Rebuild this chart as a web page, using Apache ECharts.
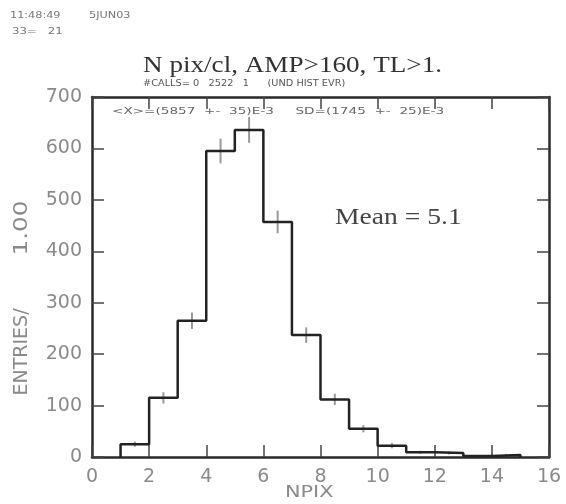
<!DOCTYPE html>
<html>
<head>
<meta charset="utf-8">
<script src="https://cdn.jsdelivr.net/npm/echarts@6/dist/echarts.min.js"></script>
<style>
    html, body { margin: 0; padding: 0; background: #fff; }
    #main { width: 566px; height: 504px; }
</style>
</head>
<body>
<div id="main"></div>
<script>
    // histogram bins (lower edges), bin width 1
    var binLow = [1, 2, 3, 4, 5, 6, 7, 8, 9, 10, 11, 12, 13, 14];
    var counts = [25, 115, 265, 595, 636, 457, 237, 112, 55, 22, 9, 8, 2, 4];
    var errors = [5, 11, 16, 24, 25, 22, 15, 11, 7, 5, 3, 3, 1, 2];
    var xTicks = [0, 2, 4, 6, 8, 10, 12, 14, 16];
    var yTicks = [0, 100, 200, 300, 400, 500, 600, 700];

    var chartDom = document.getElementById('main');
    var myChart = echarts.init(chartDom);

    // step line points
    var stepData = [[binLow[0], 0]];
    binLow.forEach(function (x, i) {
        stepData.push([x, counts[i]]);
    });
    stepData.push([binLow[binLow.length - 1] + 1, 0]);

    var errData = binLow.map(function (x, i) {
        return [x + 0.5, counts[i], errors[i]];
    });

    var tickFont = { color: '#8a8a8a', fontSize: 19, fontFamily: 'DejaVu Sans' };
    var frame = { show: true, onZero: false, lineStyle: { color: '#2a2a2a', width: 2.5 } };
    var tickStyle = { inside: true, length: 12, lineStyle: { color: '#444', width: 1.5 } };

    // helper for stretched label text
    function label(txt, x, y, font, color, sx) {
        return {
            type: 'text', x: x, y: y, scaleX: sx || 1,
            style: { text: txt, fill: color, font: font, verticalAlign: 'top' }
        };
    }

    var option = {
        animation: false,
        grid: { left: 92, right: 17, top: 97, bottom: 47 },
        xAxis: [{
            type: 'value', min: xTicks[0], max: xTicks[xTicks.length - 1], interval: 2,
            axisLine: frame,
            axisTick: tickStyle,
            axisLabel: Object.assign({ margin: 11 }, tickFont),
            splitLine: { show: false }
        }, {
            type: 'value', position: 'top', min: 0, max: 16, interval: 2,
            axisLine: frame,
            axisTick: tickStyle,
            axisLabel: { show: false },
            splitLine: { show: false }
        }],
        yAxis: [{
            type: 'value', min: yTicks[0], max: yTicks[yTicks.length - 1], interval: 100,
            axisLine: frame,
            axisTick: tickStyle,
            axisLabel: Object.assign({ margin: 10 }, tickFont),
            splitLine: { show: false }
        }, {
            type: 'value', position: 'right', min: 0, max: 700, interval: 100,
            axisLine: frame,
            axisTick: tickStyle,
            axisLabel: { show: false },
            splitLine: { show: false }
        }],
        graphic: [
            label('11:48:49', 10, 11, '9px DejaVu Sans', '#777', 1.25),
            label('5JUN03', 89, 11, '9px DejaVu Sans', '#777', 1.25),
            label('33=   21', 12, 27, '9px DejaVu Sans', '#777', 1.3),
            label('N pix/cl, AMP>160, TL>1.', 143, 54, '23px Liberation Serif', '#333', 1.18),
            label('#CALLS= 0   2522   1      (UND HIST EVR)', 143, 80, '8px DejaVu Sans', '#555', 1.22),
            label('<X>=(5857  +-  35)E-3     SD=(1745  +-  25)E-3', 112, 108, '8px DejaVu Sans', '#666', 1.7),
            label('Mean = 5.1', 335, 206, '23px Liberation Serif', '#444', 1.2),
            label('NPIX', 285, 485, '16px DejaVu Sans', '#8a8a8a', 1.3),
            { type: 'text', x: 22, y: 352, rotation: Math.PI / 2,
              style: { text: 'ENTRIES/', fill: '#8a8a8a', font: '19px DejaVu Sans', align: 'center', verticalAlign: 'middle' } },
            { type: 'text', x: 22, y: 228, rotation: Math.PI / 2, scaleX: 1.3,
              style: { text: '1.00', fill: '#8a8a8a', font: '19px DejaVu Sans', align: 'center', verticalAlign: 'middle' } }
        ],
        series: [{
            type: 'line',
            step: 'end',
            data: stepData,
            symbol: 'none',
            lineStyle: { color: '#222', width: 2.5 }
        }, {
            type: 'custom',
            data: errData,
            renderItem: function (params, api) {
                var x = api.value(0), y = api.value(1), e = api.value(2);
                var p1 = api.coord([x, y - e]);
                var p2 = api.coord([x, y + e]);
                return {
                    type: 'line',
                    shape: { x1: p1[0], y1: p1[1], x2: p2[0], y2: p2[1] },
                    style: { stroke: '#999', lineWidth: 2 }
                };
            }
        }]
    };

    option && myChart.setOption(option);
</script>
</body>
</html>
